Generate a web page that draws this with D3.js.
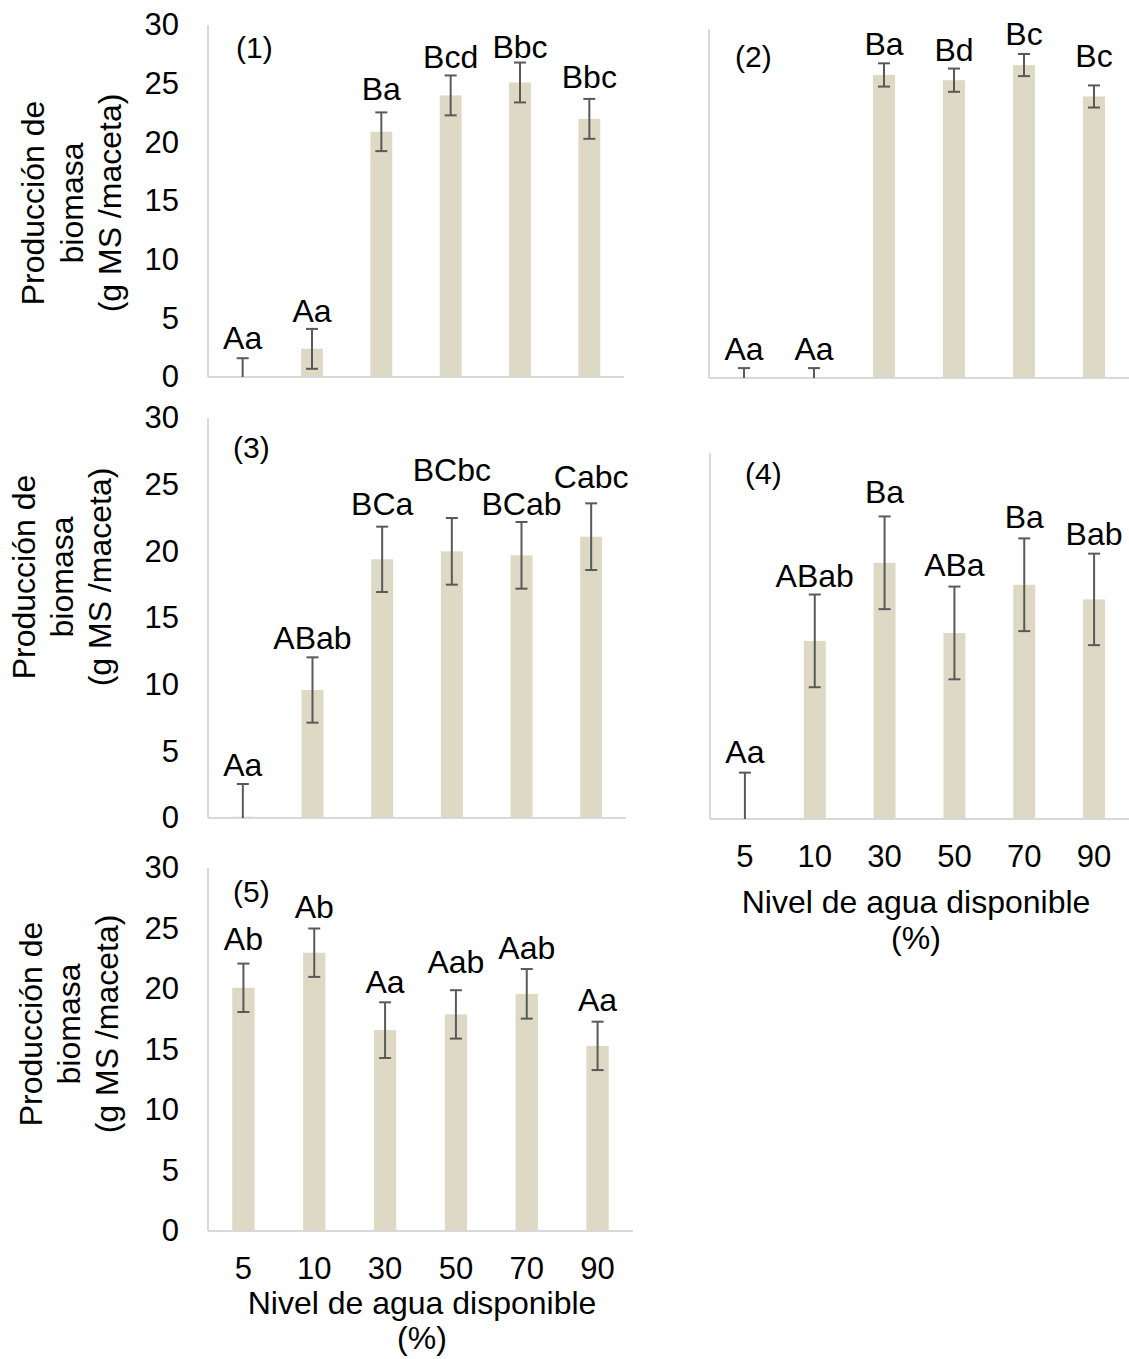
<!DOCTYPE html>
<html>
<head>
<meta charset="utf-8">
<script src="https://cdn.jsdelivr.net/npm/d3@7"></script>
<style>
  html, body { margin: 0; padding: 0; background: #ffffff; }
  svg text { font-family: "Liberation Sans", Arial, sans-serif; fill: #000; }
</style>
</head>
<body>
<svg id="chart" width="1129" height="1359"></svg>
<script>
// ---------- DATA ----------
const categories = ["5", "10", "30", "50", "70", "90"];
const yTickValues = [0, 5, 10, 15, 20, 25, 30];

const means1 = [0, 2.4, 20.9, 24.0, 25.1, 22.0];
const errors1 = [1.6, 1.7, 1.65, 1.7, 1.7, 1.7];
const letters1 = ["Aa", "Aa", "Ba", "Bcd", "Bbc", "Bbc"];
const labelAt1 = [2.4, 4.7, 23.6, 26.3, 27.2, 24.6];

const means2 = [0, 0, 26.05, 25.6, 26.9, 24.2];
const errors2 = [0.85, 0.85, 1.0, 1.0, 0.95, 0.95];
const letters2 = ["Aa", "Aa", "Ba", "Bd", "Bc", "Bc"];
const labelAt2 = [1.55, 1.55, 27.8, 27.25, 28.6, 26.7];

const means3 = [0.1, 9.6, 19.4, 20.0, 19.7, 21.1];
const errors3 = [2.45, 2.45, 2.45, 2.5, 2.5, 2.5];
const letters3 = ["Aa", "ABab", "BCa", "BCbc", "BCab", "Cabc"];
const labelAt3 = [3.15, 12.7, 22.7, 25.3, 22.7, 24.75];

const means4 = [0, 14.6, 21.0, 15.25, 19.2, 18.0];
const errors4 = [3.8, 3.8, 3.8, 3.8, 3.8, 3.75];
const letters4 = ["Aa", "ABab", "Ba", "ABa", "Ba", "Bab"];
const labelAt4 = [4.6, 19.0, 25.9, 19.9, 23.85, 22.5];

const means5 = [20.1, 23.0, 16.6, 17.9, 19.6, 15.3];
const errors5 = [2.0, 2.0, 2.3, 2.0, 2.05, 2.0];
const letters5 = ["Ab", "Ab", "Aa", "Aab", "Aab", "Aa"];
const labelAt5 = [23.2, 25.9, 19.7, 21.3, 22.5, 18.2];

const yTitleLines = ["Producción de", "biomasa", "(g MS /maceta)"];
const xTitleLines = ["Nivel de agua disponible", "(%)"];

// ---------- LAYOUT ----------
const panels = [
  { tag: "(1)", means: means1, errors: errors1, letters: letters1, labelAt: labelAt1,
    x0: 208, x1: 624, top: 25, base: 377, yTicks: true, xTicks: false,
    tagX: 236, tagY: 58, yTitleX: [33, 72, 110], yTitleY: 203 },
  { tag: "(2)", means: means2, errors: errors2, letters: letters2, labelAt: labelAt2,
    x0: 709, x1: 1129, top: 29, base: 378, yTicks: false, xTicks: false,
    tagX: 735, tagY: 67 },
  { tag: "(3)", means: means3, errors: errors3, letters: letters3, labelAt: labelAt3,
    x0: 208, x1: 626, top: 418, base: 818, yTicks: true, xTicks: false,
    tagX: 233, tagY: 458, yTitleX: [24, 62, 100], yTitleY: 577 },
  { tag: "(4)", means: means4, errors: errors4, letters: letters4, labelAt: labelAt4,
    x0: 710, x1: 1129, top: 453, base: 819, yTicks: false, xTicks: true,
    tagX: 745, tagY: 484, xTitleX: 916, xTitleY: [913, 949] },
  { tag: "(5)", means: means5, errors: errors5, letters: letters5, labelAt: labelAt5,
    x0: 208, x1: 633, top: 868, base: 1231, yTicks: true, xTicks: true,
    tagX: 233, tagY: 902, yTitleX: [31, 69, 107], yTitleY: 1024,
    xTitleX: 422, xTitleY: [1314, 1349] }
];

const barColor = "#ddd9c4";
const errColor = "#595959";
const axisColor = "#d9d9d9";
const pad = 0.685;

const svg = d3.select("#chart");

panels.forEach(p => {
  const g = svg.append("g");
  const x = d3.scaleBand().domain(categories).range([p.x0, p.x1])
    .paddingInner(pad).paddingOuter(pad / 2);
  const y = d3.scaleLinear().domain([0, 30]).range([p.base, p.top]);
  const rows = categories.map((c, i) => ({
    c, v: p.means[i], e: p.errors[i], l: p.letters[i], la: p.labelAt[i]
  }));

  // bars
  g.selectAll("rect.bar").data(rows).join("rect")
    .attr("class", "bar")
    .attr("x", d => x(d.c))
    .attr("width", x.bandwidth())
    .attr("y", d => y(d.v))
    .attr("height", d => y(0) - y(d.v))
    .attr("fill", barColor);

  // axes lines
  g.append("line").attr("x1", p.x0).attr("x2", p.x0)
    .attr("y1", p.top).attr("y2", p.base)
    .attr("stroke", axisColor).attr("stroke-width", 2);
  g.append("line").attr("x1", p.x0).attr("x2", p.x1)
    .attr("y1", p.base).attr("y2", p.base)
    .attr("stroke", axisColor).attr("stroke-width", 2);

  // error bars
  const cx = d => x(d.c) + x.bandwidth() / 2;
  const eg = g.selectAll("g.err").data(rows).join("g").attr("class", "err")
    .attr("stroke", errColor).attr("stroke-width", 2);
  eg.append("line")
    .attr("x1", cx).attr("x2", cx)
    .attr("y1", d => y(Math.max(0, d.v - d.e)))
    .attr("y2", d => y(d.v + d.e));
  eg.append("line")
    .attr("x1", d => cx(d) - 6).attr("x2", d => cx(d) + 6)
    .attr("y1", d => y(d.v + d.e)).attr("y2", d => y(d.v + d.e));
  eg.filter(d => d.v - d.e > 0).append("line")
    .attr("x1", d => cx(d) - 6).attr("x2", d => cx(d) + 6)
    .attr("y1", d => y(d.v - d.e)).attr("y2", d => y(d.v - d.e));

  // letters
  g.selectAll("text.lbl").data(rows).join("text")
    .attr("class", "lbl")
    .attr("x", cx)
    .attr("y", d => y(d.la))
    .attr("text-anchor", "middle")
    .attr("font-size", 32)
    .text(d => d.l);

  // panel tag
  g.append("text").attr("x", p.tagX).attr("y", p.tagY)
    .attr("font-size", 30).text(p.tag);

  // y ticks
  if (p.yTicks) {
    const ax = g.append("g").attr("transform", `translate(${p.x0},0)`)
      .call(d3.axisLeft(y).tickValues(yTickValues).tickSize(0).tickPadding(29));
    ax.select(".domain").remove();
    ax.selectAll("text").attr("font-size", 31)
      .attr("font-family", "Liberation Sans, Arial, sans-serif").attr("fill", "#000");
  }
  // x ticks
  if (p.xTicks) {
    const ax = g.append("g").attr("transform", `translate(0,${p.base})`)
      .call(d3.axisBottom(x).tickSize(0).tickPadding(26));
    ax.select(".domain").remove();
    ax.selectAll("text").attr("font-size", 31)
      .attr("font-family", "Liberation Sans, Arial, sans-serif").attr("fill", "#000");
    xTitleLines.forEach((t, i) => {
      g.append("text").attr("x", p.xTitleX).attr("y", p.xTitleY[i])
        .attr("text-anchor", "middle").attr("font-size", 32).text(t);
    });
  }
  // y title
  if (p.yTitleX) {
    yTitleLines.forEach((t, i) => {
      g.append("text")
        .attr("transform", `translate(${p.yTitleX[i]},${p.yTitleY}) rotate(-90)`)
        .attr("text-anchor", "middle").attr("dy", "0.35em")
        .attr("font-size", 32).text(t);
    });
  }
});
</script>
</body>
</html>
